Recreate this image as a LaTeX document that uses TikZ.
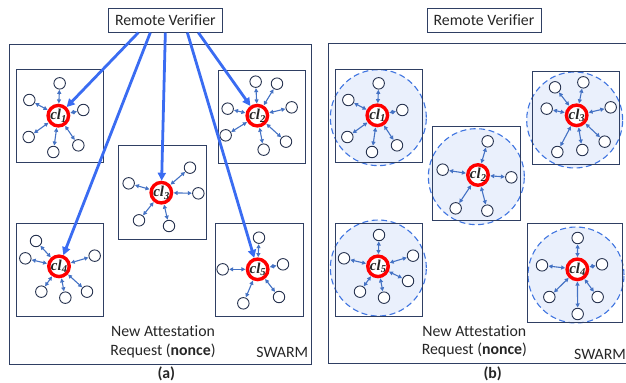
\documentclass[tikz,border=0pt]{standalone}
\usepackage{fontspec}
\setmainfont[Ligatures=NoCommon]{Carlito}
\newfontfamily\clfont{Liberation Serif}
\usetikzlibrary{arrows.meta}
\definecolor{navy}{HTML}{2F3F63}
\definecolor{bigblue}{HTML}{3A6CF2}
\definecolor{linkblue}{HTML}{4472C4}
\definecolor{paleblue}{HTML}{EAF0FC}
\definecolor{dashblue}{HTML}{3F74E0}
\tikzset{
  every node/.style={font=\fontsize{15.8}{18}\selectfont,text=black!85},
  boxframe/.style={draw=navy,line width=1pt},
  rvbox/.style={draw=navy,line width=1pt,fill=white,minimum width=114pt,minimum height=23.5pt,inner sep=0pt},
  ring/.style={circle,draw=red,line width=3.4pt,fill=white,minimum size=20.5pt,inner sep=0pt},
  sat/.style={circle,draw=navy!80!black,line width=0.9pt,fill=white,minimum size=11.5pt,inner sep=0pt},
  link/.style={draw=linkblue,line width=1.1pt,{Triangle[length=4pt,width=4pt]}-{Triangle[length=4pt,width=4pt]},shorten <=0.3pt,shorten >=0.3pt},
  bigarrow/.style={draw=bigblue,line width=2.8pt,-{Triangle[length=8pt,width=8pt]}},
  halo/.style={circle,draw=dashblue,fill=paleblue,line width=1.1pt,dash pattern=on 6pt off 3.5pt,inner sep=0pt,minimum size=96pt},
}
\newcommand{\cllabel}[1]{\hspace*{-4pt}{\clfont\bfseries\itshape\fontsize{15}{15}\selectfont cl\raisebox{-2.5pt}{\fontsize{10.5}{10.5}\selectfont #1}}\hspace*{-4pt}}
% name, centre x, centre y, index, satellites
\newcommand{\cluster}[5]{%
  \foreach \sx/\sy [count=\si] in {#5} {\node[sat] (#1s\si) at (\sx,\sy) {};}
  \node[ring] (#1) at (#2,#3) {\cllabel{#4}};
  \foreach \sx/\sy [count=\si] in {#5} {\draw[link] (#1s\si) -- (#1);}
}
\begin{document}
\begin{tikzpicture}[x=0.33333pt,y=-0.33333pt]
\useasboundingbox (0,0) rectangle (1878,1149);
% halos of panel (b)
\node[halo] (h1) at (1135,353) {};
\node[halo] (h2) at (1429,530) {};
\node[halo] (h3) at (1724,360) {};
\node[halo] (h5) at (1135,804) {};
\node[halo] (h4) at (1728,825) {};
% frames
\draw[boxframe] (29,133) rectangle (935,1093);
\draw[boxframe] (1878,130) -- (986,130) -- (986,1090) -- (1878,1090);
\foreach \xa/\ya/\xb/\yb in {49/208/310/487, 655/213/917/492, 356/438/618/718, 49/670/311/949, 647/670/909/949,
  1005/208/1267/487, 1297/381/1561/660, 1597/216/1859/495, 1005/670/1267/949, 1581/670/1866/966}
  {\draw[boxframe] (\xa,\ya) rectangle (\xb,\yb);}
% top boxes
\node[rvbox] (rva) at (496,61) {Remote Verifier};
\node[rvbox] (rvb) at (1452,61) {Remote Verifier};
% clusters (a)
\cluster{aone}{175}{347}{1}{179/250,88/300,250/330,86/411,160/456,235/436}
\cluster{atwo}{772}{347}{2}{767/245,831/251,875/322,683/326,677/406,791/449,858/425}
\cluster{athree}{484}{578}{3}{386/550,570/503,595/580,417/661,507/678}
\cluster{afour}{177}{799}{4}{108/723,76/775,284/767,124/875,196/893,261/875}
\cluster{afive}{773}{808}{5}{777/713,668/808,849/793,730/910,837/891}
% clusters (b)
\cluster{bone}{1132}{346}{1}{1136/250,1045/300,1207/330,1042/411,1116/456,1191/436}
\cluster{btwo}{1434}{525}{2}{1463/424,1328/509,1534/532,1367/625,1462/632}
\cluster{bthree}{1730}{346}{3}{1665/262,1750/247,1832/322,1640/326,1672/456,1747/450,1814/425}
\cluster{bfive}{1134}{799}{5}{1137/705,1032/775,1239/767,1080/875,1152/893,1224/843}
\cluster{bfour}{1732}{808}{4}{1733/714,1626/796,1806/793,1648/891,1793/891,1733/942}
% verifier arrows
\draw[bigarrow] ([xshift=-27pt]rva.south) -- (aone);
\draw[bigarrow] ([xshift=-15pt]rva.south) -- (afour);
\draw[bigarrow] (rva.south) -- (athree);
\draw[bigarrow] ([xshift=22pt]rva.south) -- (afive);
\draw[bigarrow] ([xshift=33pt]rva.south) -- (atwo);
% texts
\node (ta1) at (489,993) {New Attestation};
\node (ta2) at (489,1053) {Request (\textbf{nonce})};
\node (sa) at (847,1056) {SWARM};
\node (la) at (499,1122) {\textbf{(a)}};
\node (tb1) at (1423,993) {New Attestation};
\node (tb2) at (1423,1051) {Request (\textbf{nonce})};
\node (sb) at (1800,1063) {SWARM};
\node (lb) at (1478,1122) {\textbf{(b)}};
\end{tikzpicture}
\end{document}
